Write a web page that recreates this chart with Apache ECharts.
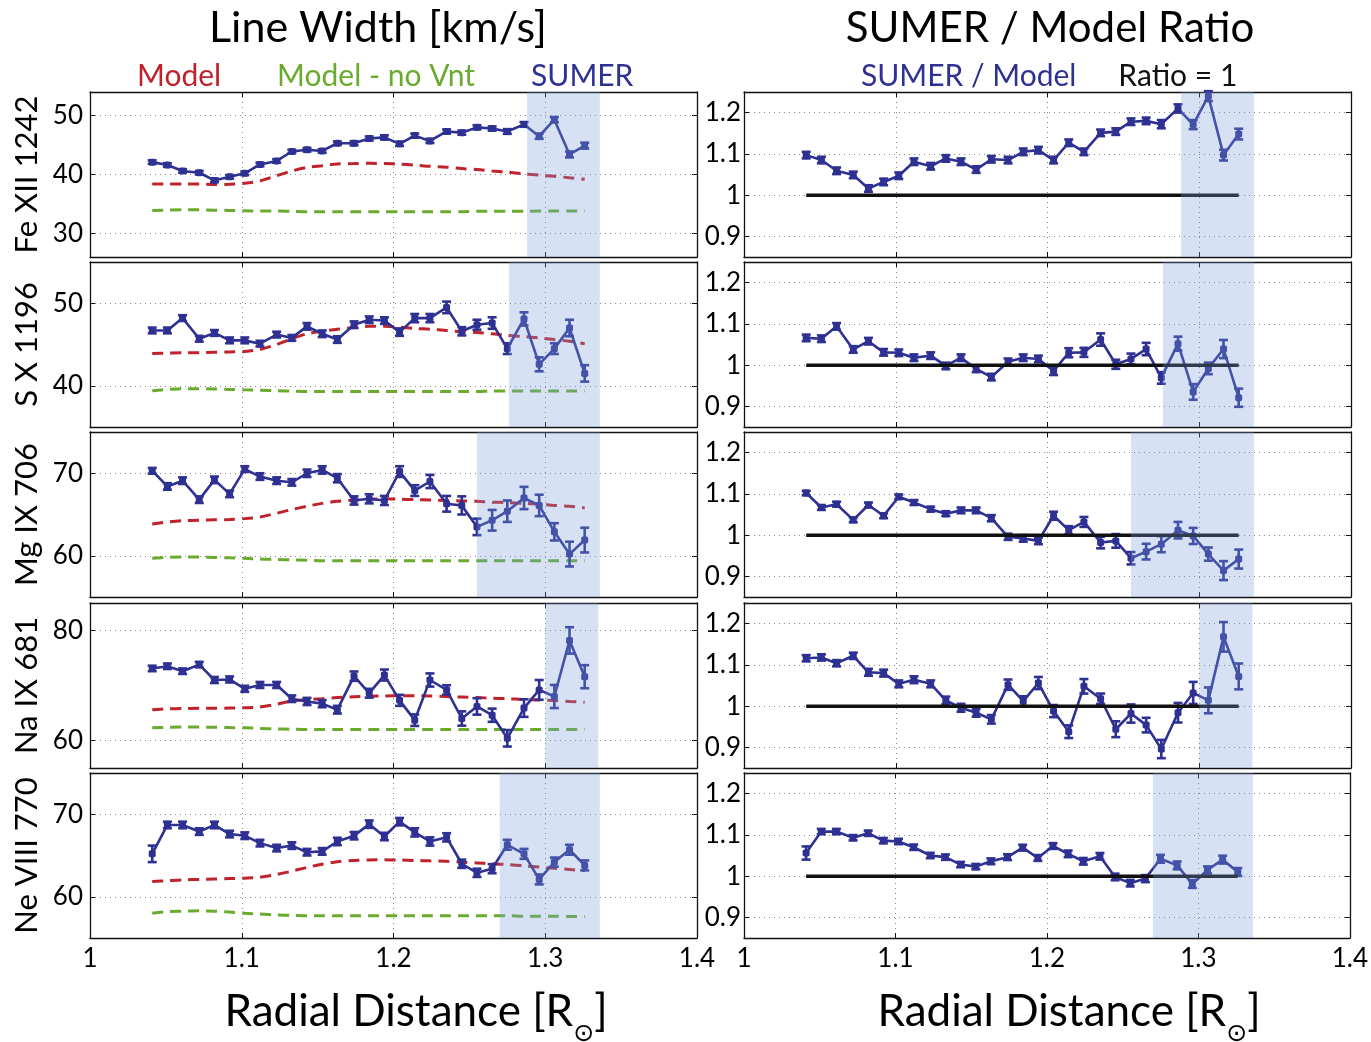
<!DOCTYPE html>
<html>
<head>
<meta charset="utf-8">
<title>Line Width / SUMER ratio</title>
<script src="https://cdn.jsdelivr.net/npm/echarts@6.0.0/dist/echarts.min.js"></script>
<style>
  html, body { margin: 0; padding: 0; background: #fff; }
  #chart { width: 1371px; height: 1042px; }
</style>
</head>
<body>
<div id="chart"></div>
<script>
// radial positions of the SUMER samples (same for every line)
const radius = [1.041, 1.051, 1.061, 1.072, 1.082, 1.092, 1.102, 1.112, 1.123, 1.133, 1.143, 1.153, 1.163, 1.174, 1.184,
  1.194, 1.204, 1.214, 1.224, 1.235, 1.245, 1.255, 1.265, 1.275, 1.286, 1.296, 1.306, 1.316, 1.326]
const ionNames = ['Fe XII 1242', 'S X 1196', 'Mg IX 706', 'Na IX 681', 'Ne VIII 770']
const ratioOneX = [1.041, 1.326]

// Fe XII 1242
const sumerFe = [42.1, 41.6, 40.6, 40.3, 39.0, 39.6, 40.2, 41.7, 42.3, 43.9, 44.2, 44.0, 45.3, 45.3, 46.1, 46.3, 45.2, 46.6, 45.7, 47.3, 47.1, 48.0, 47.8, 47.3, 48.5, 46.5, 49.3, 43.4, 44.9]
const errFe = [0.3, 0.3, 0.3, 0.3, 0.3, 0.3, 0.3, 0.3, 0.3, 0.3, 0.3, 0.3, 0.3, 0.35, 0.35, 0.35, 0.35, 0.35, 0.35, 0.35, 0.35, 0.35, 0.35, 0.4, 0.4, 0.45, 0.45, 0.5, 0.5]
const modelFe = [38.4, 38.4, 38.4, 38.4, 38.3, 38.35, 38.5, 38.9, 39.8, 40.6, 41.2, 41.5, 41.8, 41.85, 41.9, 41.85, 41.75, 41.6, 41.4, 41.25, 41.0, 40.85, 40.6, 40.4, 40.1, 39.9, 39.7, 39.45, 39.2]
const noVntFe = [33.9, 33.95, 34.0, 34.0, 33.95, 33.9, 33.85, 33.8, 33.8, 33.75, 33.7, 33.7, 33.7, 33.7, 33.7, 33.7, 33.7, 33.7, 33.7, 33.7, 33.7, 33.75, 33.75, 33.75, 33.75, 33.8, 33.8, 33.8, 33.8]
const ratioFe = [1.097, 1.085, 1.059, 1.049, 1.016, 1.032, 1.047, 1.081, 1.070, 1.089, 1.081, 1.062, 1.087, 1.085, 1.105, 1.109, 1.085, 1.127, 1.105, 1.151, 1.154, 1.178, 1.180, 1.172, 1.210, 1.171, 1.240, 1.097, 1.148]
const ratioErrFe = [0.008, 0.008, 0.008, 0.008, 0.008, 0.008, 0.008, 0.008, 0.008, 0.008, 0.008, 0.008, 0.008, 0.008, 0.008, 0.008, 0.008, 0.008, 0.008, 0.008, 0.008, 0.008, 0.008, 0.01, 0.01, 0.011, 0.012, 0.013, 0.013]
const bandFe = [1.288, 1.336]

// S X 1196
const sumerS = [46.7, 46.7, 48.2, 45.7, 46.4, 45.5, 45.5, 45.1, 46.2, 45.8, 47.2, 46.3, 45.6, 47.4, 48.0, 47.9, 46.5, 48.2, 48.2, 49.5, 46.6, 47.4, 47.6, 44.5, 48.1, 42.6, 44.5, 47.0, 41.5]
const errS = [0.35, 0.35, 0.35, 0.35, 0.35, 0.35, 0.35, 0.35, 0.35, 0.35, 0.4, 0.4, 0.4, 0.4, 0.4, 0.4, 0.45, 0.5, 0.5, 0.7, 0.5, 0.6, 0.7, 0.65, 0.8, 0.85, 0.65, 1.0, 1.0]
const modelS = [43.9, 43.95, 44.0, 44.0, 44.05, 44.1, 44.15, 44.4, 45.0, 45.7, 46.3, 46.6, 46.85, 47.05, 47.2, 47.2, 47.1, 46.95, 46.85, 46.7, 46.55, 46.45, 46.3, 46.1, 45.95, 45.8, 45.6, 45.4, 45.1]
const noVntS = [39.4, 39.55, 39.65, 39.65, 39.6, 39.55, 39.5, 39.45, 39.4, 39.35, 39.3, 39.3, 39.3, 39.3, 39.3, 39.3, 39.3, 39.3, 39.3, 39.3, 39.3, 39.3, 39.35, 39.35, 39.35, 39.35, 39.35, 39.35, 39.35]
const ratioS = [1.066, 1.064, 1.094, 1.038, 1.058, 1.031, 1.030, 1.018, 1.023, 0.998, 1.018, 0.991, 0.971, 1.008, 1.018, 1.015, 0.986, 1.030, 1.031, 1.062, 1.002, 1.015, 1.039, 0.969, 1.052, 0.935, 0.992, 1.039, 0.921]
const ratioErrS = [0.008, 0.008, 0.008, 0.008, 0.008, 0.008, 0.008, 0.008, 0.008, 0.008, 0.008, 0.008, 0.008, 0.008, 0.008, 0.008, 0.01, 0.011, 0.011, 0.015, 0.011, 0.013, 0.015, 0.014, 0.017, 0.019, 0.014, 0.022, 0.022]
const bandS = [1.276, 1.336]

// Mg IX 706
const sumerMg = [70.3, 68.4, 69.1, 66.8, 69.2, 67.5, 70.5, 69.6, 69.1, 68.9, 70.0, 70.4, 69.4, 66.7, 66.9, 66.7, 70.2, 67.9, 69.0, 66.3, 66.1, 63.5, 64.3, 65.4, 67.0, 66.1, 62.9, 60.2, 61.9]
const errMg = [0.35, 0.4, 0.4, 0.4, 0.4, 0.4, 0.35, 0.4, 0.4, 0.4, 0.45, 0.45, 0.5, 0.5, 0.55, 0.55, 0.65, 0.65, 0.8, 0.95, 1.1, 1.0, 1.25, 1.3, 1.35, 1.3, 1.05, 1.5, 1.5]
const modelMg = [63.85, 64.1, 64.25, 64.3, 64.35, 64.4, 64.5, 64.7, 65.15, 65.6, 66.0, 66.35, 66.6, 66.75, 66.85, 66.9, 66.85, 66.8, 66.75, 66.7, 66.65, 66.6, 66.5, 66.45, 66.35, 66.25, 66.1, 66.0, 65.8]
const noVntMg = [59.7, 59.8, 59.85, 59.85, 59.8, 59.75, 59.7, 59.6, 59.55, 59.5, 59.45, 59.4, 59.4, 59.4, 59.4, 59.4, 59.4, 59.4, 59.4, 59.4, 59.4, 59.4, 59.4, 59.4, 59.4, 59.4, 59.4, 59.4, 59.4]
const ratioMg = [1.102, 1.067, 1.075, 1.037, 1.073, 1.047, 1.093, 1.079, 1.063, 1.052, 1.060, 1.060, 1.041, 0.996, 0.992, 0.986, 1.047, 1.012, 1.032, 0.982, 0.986, 0.944, 0.960, 0.978, 1.012, 0.998, 0.954, 0.914, 0.942]
const ratioErrMg = [0.0055, 0.006, 0.006, 0.006, 0.006, 0.006, 0.0055, 0.006, 0.006, 0.006, 0.007, 0.007, 0.0075, 0.0075, 0.008, 0.008, 0.0097, 0.0097, 0.012, 0.014, 0.0165, 0.015, 0.019, 0.0195, 0.02, 0.0195, 0.016, 0.023, 0.023]
const bandMg = [1.255, 1.336]

// Na IX 681
const sumerNa = [73.1, 73.5, 72.6, 73.8, 71.0, 71.1, 69.4, 70.1, 70.1, 67.6, 67.1, 66.7, 65.6, 71.7, 68.6, 71.9, 67.3, 63.7, 71.0, 69.2, 64.0, 66.2, 64.6, 60.4, 65.9, 69.2, 68.0, 78.2, 71.6]
const errNa = [0.5, 0.5, 0.5, 0.5, 0.55, 0.55, 0.55, 0.55, 0.55, 0.6, 0.65, 0.65, 0.7, 0.85, 0.8, 1.0, 1.0, 1.05, 1.2, 0.85, 1.3, 1.5, 1.2, 1.5, 1.6, 1.8, 2.1, 2.4, 2.1]
const modelNa = [65.6, 65.75, 65.8, 65.85, 65.85, 65.9, 65.95, 66.1, 66.6, 67.2, 67.45, 67.6, 67.8, 67.95, 68.05, 68.1, 68.15, 68.15, 68.1, 68.0, 67.9, 67.8, 67.7, 67.6, 67.45, 67.35, 67.25, 67.1, 66.95]
const noVntNa = [62.3, 62.4, 62.45, 62.45, 62.4, 62.35, 62.3, 62.2, 62.1, 62.05, 62.0, 62.0, 62.0, 62.0, 62.0, 62.0, 62.0, 62.0, 62.0, 62.0, 62.0, 62.0, 62.0, 62.0, 62.0, 62.0, 62.0, 62.0, 62.0]
const ratioNa = [1.116, 1.118, 1.104, 1.122, 1.082, 1.080, 1.054, 1.064, 1.054, 1.014, 0.996, 0.984, 0.968, 1.052, 1.012, 1.056, 0.988, 0.938, 1.048, 1.018, 0.944, 0.982, 0.954, 0.896, 0.984, 1.032, 1.014, 1.168, 1.072]
const ratioErrNa = [0.0076, 0.0076, 0.0076, 0.0076, 0.0084, 0.0084, 0.0083, 0.0083, 0.0083, 0.009, 0.0096, 0.0096, 0.0103, 0.0125, 0.0118, 0.0147, 0.0147, 0.0154, 0.0176, 0.0125, 0.0192, 0.0221, 0.0177, 0.0222, 0.0237, 0.0267, 0.0313, 0.0358, 0.0313]
const bandNa = [1.300, 1.335]

// Ne VIII 770
const sumerNe = [65.2, 68.7, 68.7, 67.9, 68.7, 67.6, 67.4, 66.5, 65.9, 66.2, 65.4, 65.5, 66.7, 67.4, 68.8, 67.3, 69.1, 67.8, 66.7, 67.2, 64.0, 62.9, 63.4, 66.3, 65.2, 62.1, 64.2, 65.7, 63.8]
const errNe = [1.0, 0.4, 0.4, 0.4, 0.4, 0.4, 0.4, 0.4, 0.4, 0.4, 0.4, 0.4, 0.45, 0.45, 0.45, 0.45, 0.45, 0.5, 0.5, 0.5, 0.5, 0.5, 0.55, 0.6, 0.6, 0.6, 0.55, 0.6, 0.6]
const modelNe = [61.85, 61.95, 62.05, 62.1, 62.15, 62.2, 62.25, 62.35, 62.7, 63.1, 63.55, 63.95, 64.25, 64.4, 64.45, 64.5, 64.45, 64.4, 64.35, 64.3, 64.2, 64.1, 64.0, 63.9, 63.75, 63.6, 63.45, 63.3, 63.15]
const noVntNe = [58.0, 58.2, 58.25, 58.3, 58.25, 58.15, 58.0, 57.9, 57.8, 57.75, 57.7, 57.7, 57.7, 57.7, 57.7, 57.7, 57.7, 57.7, 57.7, 57.7, 57.7, 57.7, 57.7, 57.7, 57.65, 57.65, 57.65, 57.6, 57.6]
const ratioNe = [1.056, 1.108, 1.108, 1.093, 1.104, 1.086, 1.084, 1.070, 1.050, 1.046, 1.028, 1.023, 1.036, 1.046, 1.069, 1.044, 1.073, 1.054, 1.036, 1.048, 0.998, 0.983, 0.994, 1.042, 1.026, 0.981, 1.015, 1.040, 1.010]
const ratioErrNe = [0.016, 0.0065, 0.0065, 0.0065, 0.0065, 0.0065, 0.0065, 0.0065, 0.0065, 0.0065, 0.0065, 0.0065, 0.007, 0.007, 0.007, 0.007, 0.007, 0.008, 0.008, 0.008, 0.008, 0.008, 0.0085, 0.0095, 0.0095, 0.0095, 0.0085, 0.0095, 0.0095]
const bandNe = [1.270, 1.336]

// axis ranges and ticks
const xTickMin = 1, xTickMax = 1.4, xTickStep = 0.1
const widthMin = [26, 35, 55, 55, 55]
const widthMax = [54, 55, 75, 85, 75]
const widthTicks = [[30, 40, 50], [40, 50], [60, 70], [60, 80], [60, 70]]
const ratioMin = 0.85, ratioMax = 1.25
const ratioTicks = [0.9, 1, 1.1, 1.2]

const rows = [
  { sumer: sumerFe, err: errFe, model: modelFe, noVnt: noVntFe, ratio: ratioFe, ratioErr: ratioErrFe, band: bandFe },
  { sumer: sumerS, err: errS, model: modelS, noVnt: noVntS, ratio: ratioS, ratioErr: ratioErrS, band: bandS },
  { sumer: sumerMg, err: errMg, model: modelMg, noVnt: noVntMg, ratio: ratioMg, ratioErr: ratioErrMg, band: bandMg },
  { sumer: sumerNa, err: errNa, model: modelNa, noVnt: noVntNa, ratio: ratioNa, ratioErr: ratioErrNa, band: bandNa },
  { sumer: sumerNe, err: errNe, model: modelNe, noVnt: noVntNe, ratio: ratioNe, ratioErr: ratioErrNe, band: bandNe }
]

const FONT = 'Lato, "Open Sans", sans-serif'
const NAVY = '#2e3192'
const RED = '#c0222b'
const GREEN = '#6aab2e'
const BAND = 'rgba(120, 160, 220, 0.3)'
const GRID_TOP = [92, 262, 432, 603, 773]
const GRID_LEFT = [90, 744]

const pairs = (xs, ys) => xs.map((x, i) => [x, ys[i]])
const errRows = (xs, ys, es) => xs.map((x, i) => [x, ys[i] - es[i], ys[i] + es[i]])
const fmt = v => String(Math.round(v * 10) / 10)

function renderErr (params, api) {
  const x = api.value(0)
  const top = api.coord([x, api.value(2)])
  const bot = api.coord([x, api.value(1)])
  const half = 4.5
  const style = { stroke: NAVY, lineWidth: 2.6 }
  return {
    type: 'group',
    children: [
      { type: 'line', shape: { x1: top[0], y1: top[1], x2: bot[0], y2: bot[1] }, style: style },
      { type: 'line', shape: { x1: top[0] - half, y1: top[1], x2: top[0] + half, y2: top[1] }, style: style },
      { type: 'line', shape: { x1: bot[0] - half, y1: bot[1], x2: bot[0] + half, y2: bot[1] }, style: style }
    ]
  }
}

function renderBand (params, api) {
  const cs = params.coordSys
  const a = api.coord([api.value(0), api.value(2)])
  const b = api.coord([api.value(1), api.value(2)])
  return {
    type: 'rect',
    shape: { x: a[0], y: cs.y, width: b[0] - a[0], height: cs.height },
    style: { fill: BAND }
  }
}

const grids = [], xAxes = [], yAxes = [], series = []
const axisLine = { show: true, onZero: false, lineStyle: { color: '#111', width: 1.3 } }
const dotted = { show: true, lineStyle: { color: '#888', width: 1, type: [1, 4] } }

rows.forEach((row, r) => {
  [0, 1].forEach(c => {
    const g = r * 2 + c
    const last = r === rows.length - 1
    const yMin = c ? ratioMin : widthMin[r]
    const yMax = c ? ratioMax : widthMax[r]
    const ticks = c ? ratioTicks : widthTicks[r]
    grids.push({ left: GRID_LEFT[c], top: GRID_TOP[r], width: 607, height: 165 })
    ;['bottom', 'top'].forEach(pos => {
      xAxes.push({
        type: 'value', gridIndex: g, position: pos,
        min: xTickMin, max: xTickMax, interval: xTickStep,
        axisLine: axisLine,
        axisTick: { show: true, inside: true, length: 5, lineStyle: { color: '#111' } },
        axisLabel: { show: pos === 'bottom' && last, fontSize: 26, margin: 8, color: '#000', fontFamily: FONT, formatter: fmt },
        splitLine: pos === 'bottom' ? dotted : { show: false }
      })
    })
    ;['left', 'right'].forEach(pos => {
      yAxes.push({
        type: 'value', gridIndex: g, position: pos,
        min: yMin, max: yMax,
        name: (pos === 'left' && c === 0) ? ionNames[r] : '',
        nameLocation: 'middle', nameGap: 48,
        nameTextStyle: { fontSize: 31, color: '#000', fontFamily: FONT },
        axisLine: axisLine,
        axisTick: { show: true, inside: true, length: 5, customValues: ticks, lineStyle: { color: '#111' } },
        axisLabel: {
          show: pos === 'left', customValues: ticks, fontSize: 26, color: '#000', fontFamily: FONT,
          margin: c ? 3 : 7, formatter: fmt
        },
        splitLine: pos === 'left' ? dotted : { show: false }
      })
    })

    const axisIdx = { xAxisIndex: 2 * g, yAxisIndex: 2 * g }
    if (c === 0) {
      series.push({
        name: 'Model', type: 'line', ...axisIdx, data: pairs(radius, row.model),
        showSymbol: false, smooth: 0.3, z: 2, silent: true,
        lineStyle: { color: RED, width: 3, type: [11, 7] }, itemStyle: { color: RED }
      })
      series.push({
        name: 'Model - no Vnt', type: 'line', ...axisIdx, data: pairs(radius, row.noVnt),
        showSymbol: false, smooth: 0.3, z: 2, silent: true,
        lineStyle: { color: GREEN, width: 3, type: [11, 7] }, itemStyle: { color: GREEN }
      })
      series.push({
        name: 'SUMER', type: 'line', ...axisIdx, data: pairs(radius, row.sumer),
        symbol: 'roundRect', symbolSize: 7, z: 3, silent: true,
        lineStyle: { color: NAVY, width: 2.6 }, itemStyle: { color: NAVY }
      })
      series.push({
        name: 'SUMER error', type: 'custom', ...axisIdx, data: errRows(radius, row.sumer, row.err),
        encode: { x: 0, y: [1, 2] }, renderItem: renderErr, z: 4, silent: true
      })
    } else {
      series.push({
        name: 'SUMER / Model', type: 'line', ...axisIdx, data: pairs(radius, row.ratio),
        symbol: 'roundRect', symbolSize: 7, z: 3, silent: true,
        lineStyle: { color: NAVY, width: 2.6 }, itemStyle: { color: NAVY }
      })
      series.push({
        name: 'Ratio error', type: 'custom', ...axisIdx, data: errRows(radius, row.ratio, row.ratioErr),
        encode: { x: 0, y: [1, 2] }, renderItem: renderErr, z: 4, silent: true
      })
      series.push({
        name: 'Ratio = 1', type: 'line', ...axisIdx, data: ratioOneX.map(x => [x, 1]),
        showSymbol: false, z: 5, silent: true,
        lineStyle: { color: '#111', width: 3.5 }, itemStyle: { color: '#111' }
      })
    }
    // shaded SUMER range, drawn on top like the original
    series.push({
      name: 'band', type: 'custom', ...axisIdx, data: [[row.band[0], row.band[1], yMin]],
      encode: { x: [0, 1], y: 2 }, renderItem: renderBand, z: 8, silent: true
    })
  })
})

const legendText = { fontSize: 30, fontFamily: FONT }
const axisTitle = {
  text: 'Radial Distance [R{s|\u2299}]', fontSize: 44, fontFamily: FONT, fill: '#000', align: 'center', verticalAlign: 'middle',
  rich: { s: { fontSize: 25, padding: [44, 0, 0, 0], fontFamily: 'DejaVu Sans' } }
}
const option = {
  animation: false,
  backgroundColor: '#fff',
  textStyle: { fontFamily: FONT },
  legend: [
    {
      left: 126, top: 56, itemWidth: 0, itemHeight: 0, itemGap: 50, selectedMode: false,
      textStyle: legendText,
      data: [
        { name: 'Model', textStyle: { color: RED } },
        { name: 'Model - no Vnt', textStyle: { color: GREEN } },
        { name: 'SUMER', textStyle: { color: NAVY } }
      ]
    },
    {
      left: 850, top: 56, itemWidth: 0, itemHeight: 0, itemGap: 36, selectedMode: false,
      textStyle: legendText,
      data: [
        { name: 'SUMER / Model', textStyle: { color: NAVY } },
        { name: 'Ratio = 1', textStyle: { color: '#111' } }
      ]
    }
  ],
  graphic: [
    { type: 'text', x: 378, y: 28, style: { text: 'Line Width [km/s]', fontSize: 43, fontFamily: FONT, fill: '#000', align: 'center', verticalAlign: 'middle' } },
    { type: 'text', x: 1050, y: 28, style: { text: 'SUMER / Model Ratio', fontSize: 42, fontFamily: FONT, fill: '#000', align: 'center', verticalAlign: 'middle' } },
    { type: 'text', x: 416, y: 1012, style: axisTitle },
    { type: 'text', x: 1069, y: 1012, style: axisTitle }
  ],
  grid: grids,
  xAxis: xAxes,
  yAxis: yAxes,
  series: series
}

const myChart = echarts.init(document.getElementById('chart'))
myChart.setOption(option)
</script>
</body>
</html>
